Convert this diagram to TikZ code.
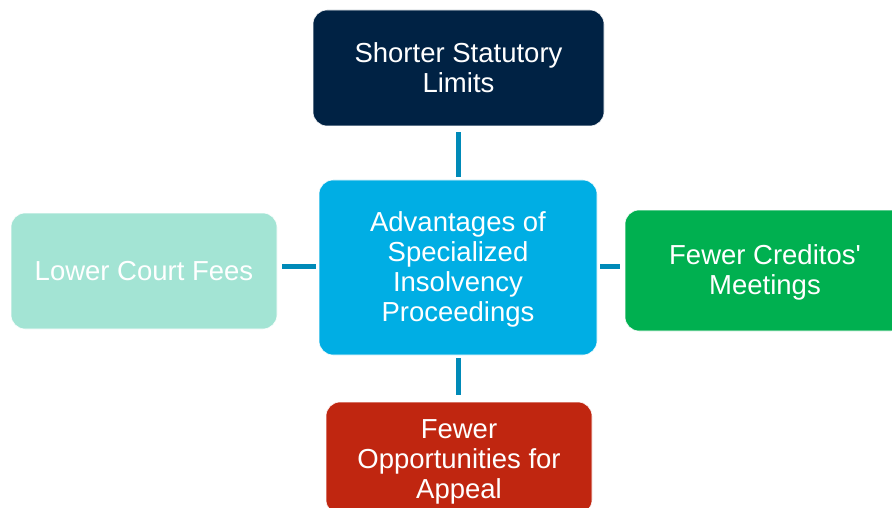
\documentclass[tikz,border=0pt]{standalone}
\usepackage{fontspec}
\setmainfont{Liberation Sans}[Ligatures=TeXOff]
\usetikzlibrary{positioning}
\definecolor{navybox}{RGB}{0,34,68}
\definecolor{centerbox}{RGB}{0,174,228}
\definecolor{mintbox}{RGB}{163,228,212}
\definecolor{greenbox}{RGB}{0,176,80}
\definecolor{redbox}{RGB}{192,38,16}
\definecolor{linkblue}{RGB}{0,138,184}
\newcommand{\downby}[1]{\rule{0pt}{\dimexpr 20pt+#1\relax}} % Text etwas tiefer setzen

\begin{document}
\begin{tikzpicture}[x=1pt, y=-1pt,
  topicbox/.style={rectangle, rounded corners=14pt, draw=white, line width=0.6pt,
    text=white, align=center, inner sep=0pt, font=\fontsize{27.5}{30}\selectfont},
  link/.style={linkblue, line width=5pt}]

\useasboundingbox (0,0) rectangle (892,508);
\clip (0,0) rectangle (892,508);

% Kasten in der Mitte und die vier Aussenkasten
\node[topicbox, fill=centerbox, minimum width=278pt, minimum height=175pt] (center) at (458,267.5)
  {\downby{4pt}Advantages of\\Specialized\\Insolvency\\Proceedings};
\node[topicbox, fill=navybox, minimum width=291pt, minimum height=116pt] (limits) at (458.5,68)
  {Shorter Statutory\\Limits};
\node[topicbox, fill=mintbox, minimum width=266pt, minimum height=116pt] (fees) at (144,271)
  {Lower Court Fees};
\node[topicbox, fill=greenbox, minimum width=280pt, minimum height=121pt] (meetings) at (765,270.5)
  {\downby{4pt}Fewer Creditos'\\Meetings};
\node[topicbox, fill=redbox, minimum width=266pt, minimum height=112pt] (appeal) at (459,458)
  {\downby{6pt}Fewer\\Opportunities for\\Appeal};

% Verbindungen
\draw[link, shorten <=3pt, shorten >=6pt] (center.north) -- (center.north |- limits.south); % oben
\draw[link, shorten <=3pt, shorten >=7pt] (center.south) -- (center.south |- appeal.north); % unten
\draw[link, shorten <=3pt, shorten >=5pt] ([yshift=1.5pt]center.west) -- ([yshift=1.5pt]center.west -| fees.east); % links
\draw[link, shorten <=3pt, shorten >=5pt] ([yshift=1.5pt]center.east) -- ([yshift=1.5pt]center.east -| meetings.west); % rechts

\end{tikzpicture}
\end{document}
